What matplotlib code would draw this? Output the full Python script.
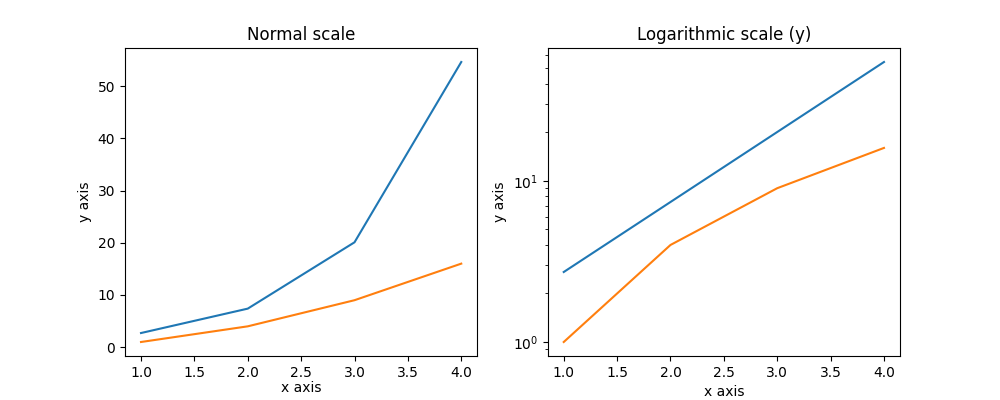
import matplotlib
matplotlib.use("Agg")
import matplotlib.pyplot as plt

x = [1, 2, 3, 4]
y_exp = [2.718, 7.389, 20.086, 54.598]
y_sq = [1, 4, 9, 16]

fig, (ax1, ax2) = plt.subplots(1, 2, figsize=(10, 4), dpi=100)

ax1.plot(x, y_exp)
ax1.plot(x, y_sq)
ax1.set_title("Normal scale")
ax1.set_xlabel("x axis", labelpad=1)
ax1.set_ylabel("y axis")

ax2.plot(x, y_exp)
ax2.plot(x, y_sq)
ax2.set_yscale("log")
ax2.set_title("Logarithmic scale (y)")
ax2.set_xlabel("x axis")
ax2.set_ylabel("y axis")

fig.savefig("out.png")
